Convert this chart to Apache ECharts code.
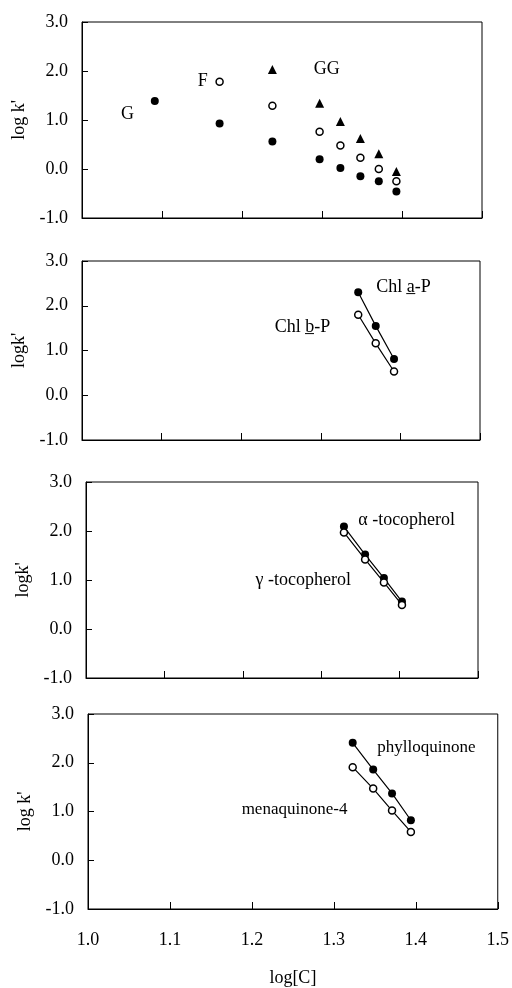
<!DOCTYPE html>
<html>
<head>
<meta charset="utf-8">
<script src="https://cdn.jsdelivr.net/npm/echarts@6/dist/echarts.min.js"></script>
<style>html,body{margin:0;padding:0;background:#fff}#c{width:512px;height:988px}</style>
</head>
<body>
<div id="c"></div>
<script>
// ---- data ----
// Panel 1
const p1FilledX = [1.091, 1.172, 1.238, 1.297, 1.323, 1.348, 1.371, 1.393];
const p1FilledY = [1.39, 0.93, 0.56, 0.20, 0.02, -0.15, -0.25, -0.46];
const p1OpenX = [1.172, 1.238, 1.297, 1.323, 1.348, 1.371, 1.393];
const p1OpenY = [1.78, 1.29, 0.76, 0.48, 0.23, 0.00, -0.25];
const p1TriX = [1.238, 1.297, 1.323, 1.348, 1.371, 1.393];
const p1TriY = [2.03, 1.34, 0.97, 0.62, 0.31, -0.05];
const p1Labels = [['G', 1.057, 1.12], ['F', 1.151, 1.80], ['GG', 1.306, 2.03]];
// Panel 2
const p2X = [1.347, 1.369, 1.392];
const p2ChlA = [2.30, 1.55, 0.81];
const p2ChlB = [1.80, 1.16, 0.53];
const p2Labels = [['Chl a\u0332-P', 1.404, 2.42], ['Chl b\u0332-P', 1.277, 1.52]];
// Panel 3
const p3X = [1.329, 1.356, 1.380, 1.403];
const p3Alpha = [2.09, 1.52, 1.04, 0.56];
const p3Gamma = [1.97, 1.42, 0.95, 0.49];
const p3Labels = [['\u03B1 -tocopherol', 1.409, 2.22], ['\u03B3 -tocopherol', 1.277, 1.00]];
// Panel 4
const p4X = [1.323, 1.348, 1.371, 1.394];
const p4Phyllo = [2.41, 1.86, 1.37, 0.82];
const p4Mena = [1.91, 1.47, 1.02, 0.58];
const p4Labels = [['phylloquinone', 1.413, 2.32], ['menaquinone-4', 1.252, 1.05]];
// axes
const xMin = 1.0, xMax = 1.5, xStep = 0.1;
const yMin = -1.0, yMax = 3.0, yStep = 1.0;
const yNames = ["log k'", "logk'", "logk'", "log k'"];
const xName = 'log[C]';

// ---- layout ----
const FONT = 'Liberation Serif';
const boxes = [
  {left: 82, right: 482, top: 22, bottom: 218},
  {left: 82, right: 480, top: 261, bottom: 440},
  {left: 86, right: 478, top: 482, bottom: 678},
  {left: 88, right: 500, top: 714, bottom: 911}
];
const zip = (xs, ys) => xs.map((x, i) => [x, ys[i]]);

const grids = [], xAxes = [], yAxes = [], series = [];
boxes.forEach((b, i) => {
  grids.push({left: b.left, top: b.top, width: b.right - b.left, height: b.bottom - b.top,
    show: true, borderColor: '#000', borderWidth: 1, backgroundColor: 'transparent'});
  const last = i === 3;
  xAxes.push({type: 'value', gridIndex: i, min: xMin, max: xMax, interval: xStep,
    axisLine: {show: true, onZero: false, lineStyle: {color: '#000', width: 1}},
    axisTick: {show: true, inside: true, length: 7, lineStyle: {color: '#000'}},
    splitLine: {show: false},
    axisLabel: {show: last, color: '#000', fontFamily: FONT, fontSize: 18, margin: 22,
      formatter: v => v.toFixed(1)},
    name: last ? xName : '', nameLocation: 'middle', nameGap: 60,
    nameTextStyle: {color: '#000', fontFamily: FONT, fontSize: 18}});
  yAxes.push({type: 'value', gridIndex: i, min: yMin, max: yMax, interval: yStep,
    axisLine: {show: true, onZero: false, lineStyle: {color: '#000', width: 1}},
    axisTick: {show: true, inside: true, length: 6, lineStyle: {color: '#000'}},
    splitLine: {show: false},
    axisLabel: {color: '#000', fontFamily: FONT, fontSize: 18, margin: 14,
      formatter: v => v.toFixed(1)},
    name: yNames[i], nameLocation: 'middle', nameGap: 54, nameRotate: 90,
    nameTextStyle: {color: '#000', fontFamily: FONT, fontSize: 18}});
});

const filled = (i, data, line, size) => ({type: line ? 'line' : 'scatter', xAxisIndex: i, yAxisIndex: i,
  data, symbol: 'circle', symbolSize: size || 8, showSymbol: true,
  itemStyle: {color: '#000', borderColor: '#000', borderWidth: 0, opacity: 1},
  lineStyle: {color: '#000', width: 1.2}, z: 3, animation: false});
const open = (i, data, line, size) => ({type: line ? 'line' : 'scatter', xAxisIndex: i, yAxisIndex: i,
  data, symbol: 'circle', symbolSize: size || 7, showSymbol: true,
  itemStyle: {color: '#fff', borderColor: '#000', borderWidth: 1.5, opacity: 1},
  lineStyle: {color: '#000', width: 1.2}, z: 4, animation: false});
const labels = (i, arr, fs) => ({type: 'scatter', xAxisIndex: i, yAxisIndex: i, symbolSize: 0,
  itemStyle: {opacity: 1},
  data: arr.map(a => ({name: a[0], value: [a[1], a[2]]})), z: 5, animation: false,
  label: {show: true, position: 'inside', formatter: p => p.name, color: '#000', opacity: 1,
    fontFamily: FONT, fontSize: fs || 18}});

series.push(filled(0, zip(p1FilledX, p1FilledY), false, 8));
series.push(open(0, zip(p1OpenX, p1OpenY), false, 7));
series.push({type: 'scatter', xAxisIndex: 0, yAxisIndex: 0, data: zip(p1TriX, p1TriY),
  symbol: 'triangle', symbolSize: 9, itemStyle: {color: '#000', opacity: 1}, animation: false});
series.push(labels(0, p1Labels));

series.push(filled(1, zip(p2X, p2ChlA), true, 8));
series.push(open(1, zip(p2X, p2ChlB), true, 7));
series.push(labels(1, p2Labels));

series.push(filled(2, zip(p3X, p3Alpha), true, 8));
series.push(open(2, zip(p3X, p3Gamma), true, 7));
series.push(labels(2, p3Labels));

series.push(filled(3, zip(p4X, p4Phyllo), true, 8));
series.push(open(3, zip(p4X, p4Mena), true, 7));
series.push(labels(3, p4Labels, 17));

const chart = echarts.init(document.getElementById('c'), null, {renderer: 'canvas'});
chart.setOption({animation: false, backgroundColor: '#fff',
  grid: grids, xAxis: xAxes, yAxis: yAxes, series});
</script>
</body>
</html>
